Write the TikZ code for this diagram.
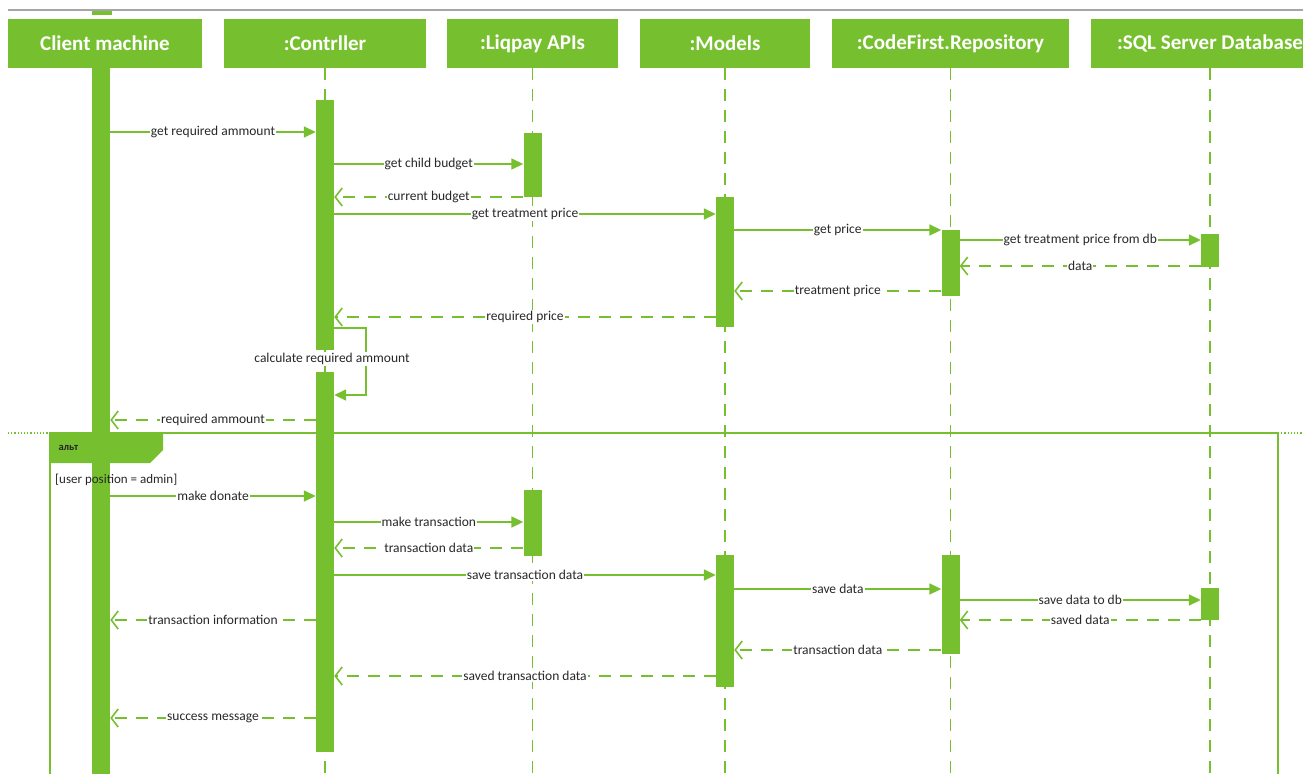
\documentclass[tikz,border=0pt]{standalone}
\usepackage{fontspec}
\setmainfont{Carlito}
\usetikzlibrary{arrows.meta}
\definecolor{umlgreen}{RGB}{118,192,47}
\definecolor{msgtext}{RGB}{40,40,40}
\tikzset{
    head/.style={fill=umlgreen, text=white, font=\fontsize{21}{24}\selectfont\bfseries,
        minimum height=49pt, inner sep=0pt},
    bar/.style={fill=umlgreen, minimum width=18pt, inner sep=0pt, anchor=north},
    life/.style={umlgreen, line width=1.5pt, dash pattern=on 12pt off 9pt},
    call/.style={umlgreen, line width=1.6pt, -{Triangle[length=12pt,width=11pt]}},
    reply/.style={umlgreen, line width=1.6pt, dash pattern=on 12pt off 9pt,
        -{Straight Barb[length=7pt,width=18pt]}},
    lbl/.style={midway, fill=white, text=msgtext, font=\fontsize{13.5}{15}\selectfont, inner sep=1pt},
}
\begin{document}
\begin{tikzpicture}[x=1pt, y=-1pt]
\clip (0,0) rectangle (1303,774);

% 顶部:灰线
\draw[gray!70, line width=1.5pt] (8,10) -- (1303,10);
\fill[umlgreen] (92,11) rectangle (112,15);

% 标题框
\node[head, minimum width=194pt] (client) at (105,43.5) {Client machine};
\node[head, minimum width=202pt] (ctrl) at (325,43.5) {:Contrller};
\node[head, minimum width=171pt] (liqpay) at (532.5,43.5) {:Liqpay APIs};
\node[head, minimum width=170pt] (models) at (725,43.5) {:Models};
\node[head, minimum width=237pt] (repo) at (950.5,43.5) {:CodeFirst.Repository};
\node[head, minimum width=238pt] (db) at (1210,43.5) {:SQL Server Database};

% 生命线
\draw[life] (ctrl.south) -- (ctrl.south |- 0,774);
\draw[life] (liqpay.south) -- (liqpay.south |- 0,774);
\draw[life] (models.south) -- (models.south |- 0,774);
\draw[life] (repo.south) -- (repo.south |- 0,774);
\draw[life] (db.south) -- (db.south |- 0,774);

% alt 框
\draw[umlgreen, line width=1.5pt] (50,774) -- (50,433) -- (1278,433) -- (1278,774);
\draw[umlgreen, line width=1.2pt, dotted] (8,433) -- (50,433);
\draw[umlgreen, line width=1.2pt, dotted] (1278,433) -- (1303,433);
\fill[umlgreen] (50,433) -- (163,433) -- (163,450) -- (150,463) -- (50,463) -- cycle;

% 激活条
\node[bar, minimum width=18pt, minimum height=706pt] (cbar) at (101,68) {};
\node[bar, minimum height=250pt] (c1) at (ctrl.south |- 0,100) {};
\node[bar, minimum height=380pt] (c2) at (ctrl.south |- 0,372) {};
\node[bar, minimum height=64pt] (l1) at (liqpay.south |- 0,133) {};
\node[bar, minimum height=66pt] (l2) at (liqpay.south |- 0,490) {};
\node[bar, minimum height=130pt] (m1) at (models.south |- 0,197) {};
\node[bar, minimum height=132pt] (m2) at (models.south |- 0,555) {};
\node[bar, minimum height=66pt] (r1) at (repo.south |- 0,230) {};
\node[bar, minimum height=99pt] (r2) at (repo.south |- 0,555) {};
\node[bar, minimum height=33pt] (d1) at (db.south |- 0,234) {};
\node[bar, minimum height=32pt] (d2) at (db.south |- 0,588) {};

\node[anchor=west, text=black!85, font=\fontsize{10.5}{12}\selectfont\bfseries] (altlbl) at (55,448) {альт};
\node[anchor=west, text=msgtext, font=\fontsize{13}{15}\selectfont, inner sep=0pt] (guard) at (55,480) {[user position = admin]};

% 第一部分
\draw[call] (cbar.east |- 0,132) -- node[lbl] {get required ammount} (c1.west |- 0,132);
\draw[call] (c1.east |- 0,164) -- node[lbl] {get child budget} (l1.west |- 0,164);
\draw[reply] (l1.west |- 0,197) -- node[lbl] {current budget} (c1.east |- 0,197);
\draw[call] (c1.east |- 0,214) -- node[lbl] {get treatment price} (m1.west |- 0,214);
\draw[call] (m1.east |- 0,230) -- node[lbl] {get price} (r1.west |- 0,230);
\draw[call] (r1.east |- 0,240) -- node[lbl] {get treatment price from db} (d1.west |- 0,240);
\draw[reply] (d1.west |- 0,266) -- node[lbl] {data} (r1.east |- 0,266);
\draw[reply] (r1.west |- 0,291) -- node[lbl] {treatment price} (m1.east |- 0,291);
\draw[reply] (m1.west |- 0,317) -- node[lbl] {required price} (c1.east |- 0,317);
\draw[call] (c1.east |- 0,328) -- (366,328) -- (366,395) -- (c2.east |- 0,395);
\node[fill=white, text=msgtext, font=\fontsize{13.5}{15}\selectfont, inner sep=1pt] (calc) at (332,359) {calculate required ammount};
\draw[reply] (c2.west |- 0,420) -- node[lbl] {required ammount} (cbar.east |- 0,420);

% 第二部分:alt
\draw[call] (cbar.east |- 0,496) -- node[lbl] {make donate} (c2.west |- 0,496);
\draw[call] (c2.east |- 0,522) -- node[lbl] {make transaction} (l2.west |- 0,522);
\draw[reply] (l2.west |- 0,548) -- node[lbl] {transaction data} (c2.east |- 0,548);
\draw[call] (c2.east |- 0,575) -- node[lbl] {save transaction data} (m2.west |- 0,575);
\draw[call] (m2.east |- 0,589) -- node[lbl] {save data} (r2.west |- 0,589);
\draw[call] (r2.east |- 0,600) -- node[lbl] {save data to db} (d2.west |- 0,600);
\draw[reply] (d2.west |- 0,620) -- node[lbl] {saved data} (r2.east |- 0,620);
\draw[reply] (c2.west |- 0,620) -- node[lbl] {transaction information} (cbar.east |- 0,620);
\draw[reply] (r2.west |- 0,650) -- node[lbl] {transaction data} (m2.east |- 0,650);
\draw[reply] (m2.west |- 0,676) -- node[lbl] {saved transaction data} (c2.east |- 0,676);
\draw[reply] (c2.west |- 0,718) -- node[lbl] {success message} (cbar.east |- 0,718);

\end{tikzpicture}
\end{document}
